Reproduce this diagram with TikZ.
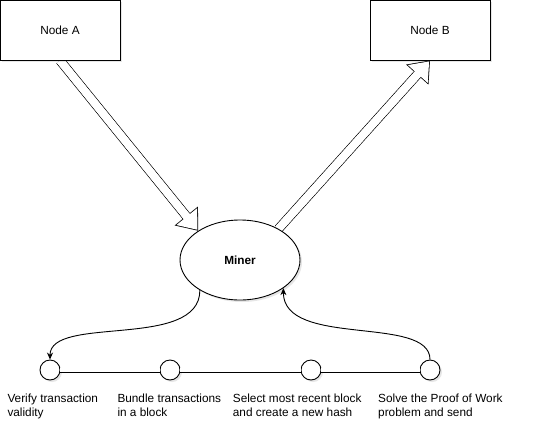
\documentclass[tikz,border=0pt]{standalone}
\usepackage{fontspec}
\setmainfont{Liberation Sans}
\usetikzlibrary{arrows.meta,shapes.geometric,shadows}
\pgfdeclarelayer{background}
\pgfsetlayers{background,main}

\tikzset{
  shade box/.style={drop shadow={shadow xshift=2pt,shadow yshift=-2pt,opacity=0.2}},
  flexout/.style={line width=9.4pt,-{Triangle[length=19pt,width=30pt,line width=0pt]}},
  flexin/.style={white,line width=7.8pt,shorten >=1.3pt,-{Triangle[length=16.9pt,width=26.7pt,line width=0pt]}},
  flexgap/.style={white,line width=7.8pt,shorten >=10pt},
  curvy/.style={line width=0.9pt,-{Stealth[length=7pt,width=6pt]}}
}

\begin{document}
\begin{tikzpicture}[x=1pt,y=-1pt,font=\fontsize{11.8}{14}\selectfont]
  \useasboundingbox (0,0) rectangle (537,431);

  \begin{scope}[every node/.style={draw,line width=0.9pt,fill=white,shade box}]
    \node[minimum width=120pt,minimum height=60pt] (a) at (60,30) {Node A};
    \node[minimum width=120pt,minimum height=60pt] (b) at (430,30) {Node B};
    \node[ellipse,minimum width=120pt,minimum height=80pt,inner sep=0pt,
          font=\fontsize{11.8}{14}\selectfont\bfseries] (miner) at (240,260) {Miner};
  \end{scope}

  \begin{scope}[every node/.style={circle,draw,line width=0.9pt,fill=white,
                minimum size=20pt,inner sep=0pt,shade box}]
    \node (s1) at (50,370) {};
    \node (s2) at (170,370) {};
    \node (s3) at (311,370) {};
    \node (s4) at (430,370) {};
  \end{scope}

  \begin{scope}[every node/.style={anchor=north west,align=left,inner sep=0pt}]
    \node (t1) at (7.3,394) {Verify transaction\\validity};
    \node (t2) at (117.3,394) {Bundle transactions\\in a block};
    \node (t3) at (232.7,394) {Select most recent block\\and create a new hash};
    \node (t4) at (378,394) {Solve the Proof of Work\\problem and send};
  \end{scope}

  % hollow arrows, kept under the boxes
  \begin{pgfonlayer}{background}
    \draw[flexout] (a.south) -- (miner.145);
    \draw[flexin] (a.south) -- (miner.145);
    \draw[flexgap] (a.south) -- (miner.145);
    \draw[flexout] (miner.39) -- (b.south);
    \draw[flexin] (miner.39) -- (b.south);
    \draw[flexgap] (miner.39) -- (b.south);
  \end{pgfonlayer}

  \begin{scope}[every edge/.style={draw,double,double distance=3.2pt,line width=0.9pt}]
    \path (s1) edge (s2);
    \path (s2) edge (s3);
    \path (s3) edge (s4);
  \end{scope}

  \draw[curvy] (miner.217) .. controls +(0,60) and +(0,-45) .. (s1.north);
  \draw[curvy] (s4.north) .. controls +(0,-45) and +(0,60) .. (miner.-33);
\end{tikzpicture}
\end{document}
